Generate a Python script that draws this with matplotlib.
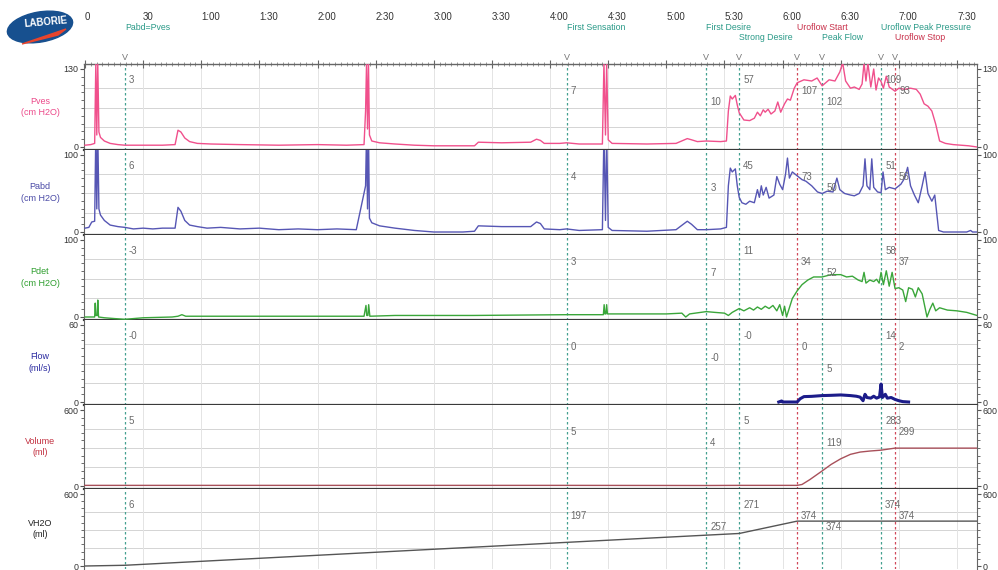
import matplotlib
matplotlib.use("Agg")
import matplotlib.pyplot as plt
from matplotlib.patches import Ellipse, Polygon
from matplotlib.ticker import MultipleLocator

plt.rcParams['font.family'] = ['Liberation Sans', 'DejaVu Sans']

# time axis (seconds)
time_ticks = [0, 30, 60, 90, 120, 150, 180, 210, 240, 270, 300, 330, 360, 390, 420, 450]
time_labels = ['0', '30', '1:00', '1:30', '2:00', '2:30', '3:00', '3:30', '4:00',
               '4:30', '5:00', '5:30', '6:00', '6:30', '7:00', '7:30']
t_end = 460.3

# study events
events = ['Pabd=Pves', 'First Sensation', 'First Desire', 'Strong Desire',
          'Uroflow Start', 'Peak Flow', 'Uroflow Peak Pressure', 'Uroflow Stop']
event_t = [20.6, 248.5, 320.6, 337.6, 367.5, 380.4, 410.8, 418.0]
event_is_flow = [False, False, False, False, True, False, False, True]

# channel traces (time s, value)
pves_t = [0, 3, 5.0, 5.6, 6.1, 6.6, 7.2, 8, 10, 13, 17, 20.6, 30, 40, 46.5, 48, 49.5, 51.5, 54, 58,
          65, 80, 100, 120, 135, 144, 144.8, 145.3, 145.8, 146.3, 146.8, 148, 152, 160, 170, 180,
          195, 201, 203, 215, 230, 233, 235, 237, 245, 248.5, 255, 267, 267.8, 268.6, 269.2, 270,
          272, 290, 305, 310.8, 313, 316, 320.6, 328, 331, 332, 333, 334, 335.6, 336.6, 337.6, 340,
          343, 345.4, 347, 348.5, 350, 351, 352.5, 354, 356, 357.5, 359, 361, 362.5, 364, 366,
          367.5, 371, 375, 377.8, 380.4, 384, 387, 389.5, 391, 392.5, 395, 397, 399.5, 401, 402,
          403, 404, 405.5, 407, 408.2, 409.5, 410.8, 412, 413.5, 415, 418, 420, 423, 426, 429,
          431, 433, 435, 437, 439, 441, 444, 448, 452, 456, 460.3]
pves_v = [3, 4, 6, 140, 20, 140, 25, 16, 10, 6, 4, 3, 3, 3, 4, 28, 25, 15, 9, 6,
          5, 4, 3, 4, 3, 4, 60, 140, 30, 140, 20, 10, 7, 5, 3, 2,
          2, 2, 8, 7, 8, 13, 11, 6, 6, 7, 5, 5, 140, 20, 140, 12,
          6, 5, 6, 14, 12, 9, 10, 9, 10, 60, 85, 80, 86, 70, 57, 45,
          44, 48, 58, 52, 62, 58, 63, 55, 60, 75, 58, 72, 80, 78, 98,
          107, 112, 110, 115, 102, 112, 110, 125, 140, 110, 98, 100, 96, 105, 140,
          110, 140, 100, 130, 95, 115, 109, 98, 118, 100, 93, 98, 96, 98, 96,
          88, 72, 68, 60, 38, 10, 6, 4, 3, 2, 0]

pabd_t = [0, 2, 3.5, 5.0, 5.6, 6.1, 6.6, 7.2, 8, 10, 13, 17, 20.6, 25, 30, 35, 40, 46.5, 48, 49.5,
          51.5, 54, 58, 63, 70, 80, 90, 100, 110, 120, 130, 140, 144.8, 145.3, 145.8, 146.3,
          146.8, 148, 152, 160, 170, 180, 195, 201, 203, 215, 230, 233, 235, 237, 245, 248.5,
          255, 267, 267.8, 268.6, 269.2, 270, 272, 290, 305, 310.8, 313, 316, 320.6, 328, 331,
          332, 333, 334, 335.6, 336.6, 337.6, 339, 341, 343, 345.4, 347, 348, 349, 350, 351.5,
          353, 355.5, 357, 358.5, 360, 361.5, 362.5, 363.5, 365, 367.5, 370, 372, 375, 378,
          380.4, 383, 386, 388, 389.5, 392, 395, 397, 399.5, 401.5, 402.5, 403.5, 405, 406, 407,
          409, 410.8, 411.8, 413, 415, 418, 421, 423, 424.5, 426, 428, 430, 432, 433.5, 435, 437,
          438.5, 440.5, 443, 455, 457, 458, 460.3]
pabd_v = [5, 6, 13, 14, 130, 30, 130, 30, 22, 15, 9, 7, 6, 4, 5, 4, 5, 5, 32, 27,
          15, 9, 7, 5, 6, 4, 5, 3, 4, 3, 4, 3, 60, 130, 30, 130,
          18, 12, 8, 5, 2, 0, 0, 1, 8, 7, 7, 13, 11, 4, 3, 4,
          2, 3, 130, 15, 130, 6, 2, 1, 3, 14, 10, 3, 3, 4, 6,
          60, 83, 78, 82, 60, 45, 38, 36, 40, 38, 55, 45, 60, 48, 58,
          44, 48, 72, 62, 55, 75, 96, 70, 78, 73, 68, 66, 60, 52,
          50, 53, 52, 70, 55, 50, 48, 47, 50, 60, 95, 60, 55, 95, 58,
          52, 51, 78, 55, 58, 56, 62, 70, 84, 60, 48, 38, 60, 78, 50, 40,
          48, 2, 0, 0, 2, 0, 0]

pdet_t = [0, 4, 5.0, 5.3, 5.6, 6.3, 6.6, 7.0, 10, 15, 20.6, 30, 45, 48, 50, 52, 60, 90, 120, 144,
          145, 145.4, 146, 146.4, 147, 160, 200, 248.5, 260, 267.5, 267.9, 268.3, 268.8, 269.2,
          269.6, 280, 300, 308, 310, 312, 320.6, 325, 330, 332, 334, 337.6, 340, 343, 345, 347,
          349, 351, 353, 355, 357, 358.5, 360, 361, 362, 363.5, 365, 367.5, 370, 373, 376, 380.4,
          385, 390, 393, 396, 399, 401, 402, 403, 405, 407, 408.5, 409.8, 410.8, 412, 413.5, 415,
          416.5, 418, 420, 422, 423.5, 425, 427, 428.5, 430, 432, 433.5, 434.5, 436, 437.5, 439,
          441, 445, 450, 455, 460.3]
pdet_v = [0, 0, 0, 18, 2, 2, 22, 0, -1, -2, -3, -1, 0, 1, 3, 1, 1, 1, 1, 1,
          15, 2, 2, 16, 1, 2, 2, 3, 3, 3, 16, 4, 4, 16,
          4, 4, 4, 5, 0, 4, 7, 6, 5, 2, 6, 11, 8, 12, 9, 13,
          10, 14, 11, 15, 8, 16, 2, 14, 0, 12, 24, 34, 42, 48, 52, 52,
          55, 55, 52, 53, 48, 46, 58, 44, 48, 46, 49, 44, 58, 42, 60, 40,
          58, 37, 38, 35, 20, 38, 36, 26, 38, 30, 12, 0, 10, 18, 8,
          12, 9, 8, 6, 2]

# uroflowmeter trace, recorded around the void only
flow_t = [358, 359.5, 360, 367.5, 369, 371, 375, 380.4, 385, 390, 395, 398, 400, 401.5, 402.5,
          403.5, 405.5, 407, 408.5, 410, 410.8, 411.5, 413, 414, 416, 418, 420, 422, 425]
flow_v = [0, 0.8, 0, 0, 2.5, 4.2, 4.4, 5, 5.2, 5.5, 5.0, 4.5, 3.8, 1.0, 6,
          3.5, 3.0, 4.5, 3.0, 4, 14, 3.5, 6, 3, 3.5, 2, 1, 0.3, 0]

volume_t = [0, 20.6, 248.5, 320.6, 337.6, 367.5, 370, 374, 380.4, 385, 390, 395, 400, 405,
            410.8, 418, 460.3]
volume_v = [5, 5, 5, 4, 5, 5, 12, 50, 119, 170, 215, 250, 268, 276, 283, 299, 299]

vh2o_t = [0, 20.6, 248.5, 320.6, 337.6, 367.5, 460.3]
vh2o_v = [0, 6, 197, 257, 271, 374, 374]

# values printed at each event, per channel
pves_marks = ['3', '7', '10', '57', '107', '102', '109', '93']
pabd_marks = ['6', '4', '3', '45', '73', '50', '51', '56']
pdet_marks = ['-3', '3', '7', '11', '34', '52', '58', '37']
flow_marks = ['-0', '0', '-0', '-0', '0', '5', '14', '2']
volume_marks = ['5', '5', '4', '5', None, '119', '283', '299']
vh2o_marks = ['6', '197', '257', '271', '374', '374', '374', '374']

channels = [
    dict(name='Pves', unit='(cm H2O)', vmax=130, t=pves_t, v=pves_v, marks=pves_marks,
         color='#f0508c', text='#ec4a8a', lw=1.0),
    dict(name='Pabd', unit='(cm H2O)', vmax=100, t=pabd_t, v=pabd_v, marks=pabd_marks,
         color='#5656b4', text='#4a4aa6', lw=1.0),
    dict(name='Pdet', unit='(cm H2O)', vmax=100, t=pdet_t, v=pdet_v, marks=pdet_marks,
         color='#3aa63a', text='#2e9e2e', lw=1.0),
    dict(name='Flow', unit='(ml/s)', vmax=60, t=flow_t, v=flow_v, marks=flow_marks,
         color='#1c1c8a', text='#2a2aa0', lw=2.2),
    dict(name='Volume', unit='(ml)', vmax=600, t=volume_t, v=volume_v, marks=volume_marks,
         color='#a8505a', text='#c23040', lw=1.0),
    dict(name='VH2O', unit='(ml)', vmax=600, t=vh2o_t, v=vh2o_v, marks=vh2o_marks,
         color='#555555', text='#222222', lw=1.0),
]

W, H = 998, 570
x0, x1 = 84, 977
panel_px = [(64, 150), (150, 235), (235, 320), (320, 405), (405, 489), (489, 569)]
pad_top, pad_bot = 5, 3

teal, red = '#45a090', '#d0485a'
teal_txt, red_txt = '#2a9a88', '#c8304a'
grey_txt = '#6a6a6a'

fig = plt.figure(figsize=(W / 100, H / 100), dpi=100)

axes = []
for i, ch in enumerate(channels):
    top, bot = panel_px[i]
    ax = fig.add_axes([x0 / W, 1 - bot / H, (x1 - x0) / W, (bot - top) / H])
    axes.append(ax)
    vmax = ch['vmax']
    scale = (bot - top - pad_top - pad_bot) / vmax
    ax.set_ylim(-pad_bot / scale, vmax + pad_top / scale)
    ax.set_xlim(-0.5, t_end)

    # background grid
    for frac in (0.25, 0.5, 0.75):
        ax.axhline(vmax * frac, color='#d4d4d4', lw=0.7, zorder=0)
    for t in time_ticks[1:]:
        ax.axvline(t, color='#e4e4e4', lw=0.7, zorder=0)

    # event markers
    for t, is_flow in zip(event_t, event_is_flow):
        ax.axvline(t, color=red if is_flow else teal, lw=0.9, ls=(0, (2, 2)), zorder=1)

    ax.plot(ch['t'], ch['v'], color=ch['color'], lw=ch['lw'], zorder=3)

    # event values, staggered down from the top of the channel
    for k, (t, lbl) in enumerate(zip(event_t, ch['marks'])):
        if lbl is None:
            continue
        level = k % 3
        if ch['name'] == 'Flow' and events[k] == 'Peak Flow':
            level = 3
        ax.annotate(lbl, xy=(t, vmax), xytext=(4, -11 * (level + 1)),
                    textcoords='offset pixels', ha='left', va='center',
                    fontsize=7, color=grey_txt, zorder=4)

    # y axis on both sides
    ax.set_yticks([0, vmax])
    ax.set_yticklabels(['0', str(vmax)])
    ax.yaxis.set_minor_locator(MultipleLocator(vmax / 10))
    ax.tick_params(axis='y', which='both', left=True, right=True, labelleft=True,
                   labelright=True, direction='out', colors='#555555', labelsize=6.4,
                   labelcolor='#333333', pad=1)
    ax.tick_params(axis='y', which='major', length=3)
    ax.tick_params(axis='y', which='minor', length=2.5)

    for side in ('left', 'right'):
        ax.spines[side].set_color('#666666')
        ax.spines[side].set_linewidth(0.8)
    ax.spines['bottom'].set_color('#3a3a3a')
    ax.spines['bottom'].set_linewidth(1.6)
    if i == 0:
        ax.spines['top'].set_color('#666666')
        ax.spines['top'].set_linewidth(1.0)
    else:
        ax.spines['top'].set_visible(False)
    if i == len(channels) - 1:
        ax.spines['bottom'].set_visible(False)

    ax.annotate(ch['name'] + '\n' + ch['unit'], xy=(0, 0.5), xycoords='axes fraction',
                xytext=(-44, 0), textcoords='offset pixels', ha='center', va='center',
                fontsize=6.5, color=ch['text'], linespacing=1.4)

# time ruler along the top of the first channel
ax0 = axes[0]
ax0.xaxis.set_ticks_position('top')
ax0.set_xticks(time_ticks)
ax0.set_xticklabels([])
ax0.xaxis.set_minor_locator(MultipleLocator(3))
ax0.tick_params(axis='x', which='major', direction='inout', length=6, color='#666666')
ax0.tick_params(axis='x', which='minor', direction='inout', length=3, color='#888888')
for ax in axes[1:]:
    ax.set_xticks([])

for t, lbl in zip(time_ticks, time_labels):
    ax0.annotate(lbl, xy=(t, 1), xycoords=('data', 'axes fraction'), xytext=(0, 47),
                 textcoords='offset pixels', ha='left', va='center', fontsize=7,
                 color='#333333', annotation_clip=False)

# event names in two rows, second row when the first would overlap
row_end = -1e9
for name, t, is_flow in zip(events, event_t, event_is_flow):
    if t < row_end:
        dy = 26
    else:
        dy = 37
        row_end = t + len(name) * 2.1
    ax0.annotate(name, xy=(t, 1), xycoords=('data', 'axes fraction'), xytext=(0, dy),
                 textcoords='offset pixels', ha='left', va='center', fontsize=6.3,
                 color=red_txt if is_flow else teal_txt, annotation_clip=False)
    ax0.annotate('V', xy=(t, 1), xycoords=('data', 'axes fraction'), xytext=(0, 7),
                 textcoords='offset pixels', ha='center', va='center', fontsize=6.5,
                 color='#777777', annotation_clip=False)

# logo
lax = fig.add_axes([0, 0, 1, 1], zorder=-1)
lax.set_xlim(0, W)
lax.set_ylim(H, 0)
lax.axis('off')
lax.add_patch(Ellipse((40, 27), 66, 30, angle=-10, color='#17508f'))
lax.add_patch(Polygon([(22, 44), (66, 29), (58, 35)], closed=True, color='#e8442c'))
lax.text(46, 22, 'LABORIE', color='white', fontsize=7, fontweight='bold',
         ha='center', va='center', rotation=5)

fig.savefig('out.png', dpi=100)
